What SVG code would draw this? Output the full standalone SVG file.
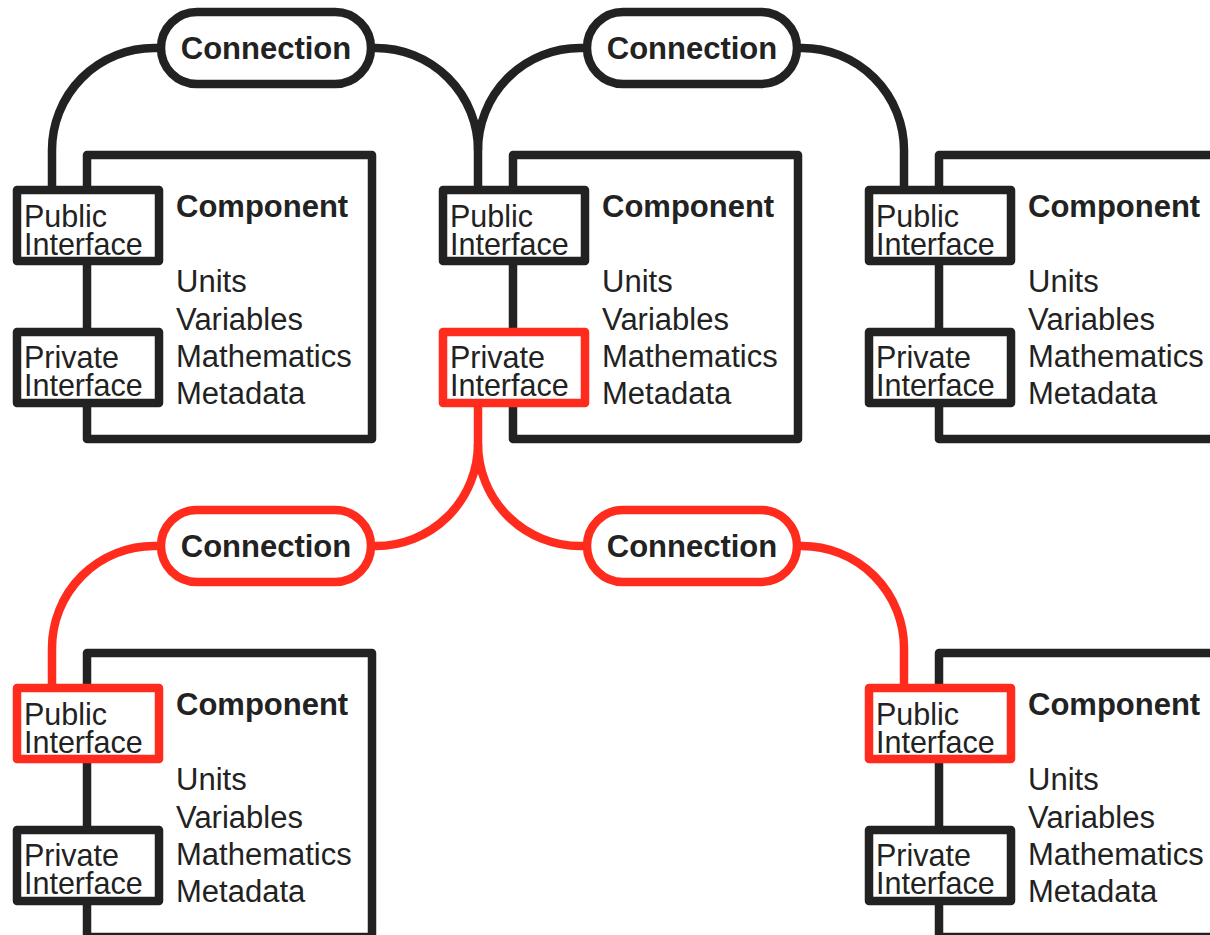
<svg xmlns="http://www.w3.org/2000/svg" width="1210" height="935" viewBox="0 0 1210 935">
  <style>
    .wire{fill:none;stroke:#222;stroke-width:8.5}
    .wire.hot{stroke:#ff2b1c}
    .box{fill:none;stroke:#222;stroke-width:8.5;stroke-linejoin:round}
    .port{fill:#fff;stroke:#222;stroke-width:8.5;stroke-linejoin:round}
    .port.hot{stroke:#ff2b1c}
    .pill{fill:#fff;stroke:#222;stroke-width:8.5}
    .pill.hot{stroke:#ff2b1c}
    text{font-family:"Liberation Sans",Arial,Helvetica,sans-serif;fill:#222}
    .title{font-size:31px;font-weight:bold}
    .item{font-size:31px}
    .plabel{font-size:30.5px}
    .clabel{font-size:31px;font-weight:bold;text-anchor:middle}
  </style>
  <rect width="1210" height="935" fill="#fff"/>

  <!-- connectors -->
  <g id="connectors">
    <path class="wire" d="M52,190 V150 A102,102 0 0 1 154,48 H165"/>
    <path class="wire" d="M370,48 H376 A102,102 0 0 1 478,150 V190"/>
    <path class="wire" d="M588,48 H580 A102,102 0 0 0 478,150"/>
    <path class="wire" d="M796,48 H802 A102,102 0 0 1 904,150 V190"/>
    <path class="wire hot" d="M478,403 V444 A102,102 0 0 1 376,546 H370"/>
    <path class="wire hot" d="M478,444 A102,102 0 0 0 580,546 H588"/>
    <path class="wire hot" d="M165,546 H154 A102,102 0 0 0 52,648 V688"/>
    <path class="wire hot" d="M796,546 H802 A102,102 0 0 1 904,648 V688"/>
  </g>

  <!-- components -->
  <g id="component-1">
    <rect class="box" x="87" y="155" width="285" height="284"/>
    <text class="title" x="176" y="217">Component</text>
    <text class="item" x="176" y="292">Units</text>
    <text class="item" x="176" y="329.5">Variables</text>
    <text class="item" x="176" y="367">Mathematics</text>
    <text class="item" x="176" y="404">Metadata</text>
    <g id="component-1-public">
      <rect class="port" x="17" y="190" width="142" height="71"/>
      <text class="plabel" x="24" y="227">Public</text>
      <text class="plabel" x="24" y="255">Interface</text>
    </g>
    <g id="component-1-private">
      <rect class="port" x="17" y="332" width="142" height="71"/>
      <text class="plabel" x="24" y="368">Private</text>
      <text class="plabel" x="24" y="396">Interface</text>
    </g>
  </g>

  <g id="component-2" transform="translate(426,0)">
    <rect class="box" x="87" y="155" width="285" height="284"/>
    <text class="title" x="176" y="217">Component</text>
    <text class="item" x="176" y="292">Units</text>
    <text class="item" x="176" y="329.5">Variables</text>
    <text class="item" x="176" y="367">Mathematics</text>
    <text class="item" x="176" y="404">Metadata</text>
    <g id="component-2-public">
      <rect class="port" x="17" y="190" width="142" height="71"/>
      <text class="plabel" x="24" y="227">Public</text>
      <text class="plabel" x="24" y="255">Interface</text>
    </g>
    <g id="component-2-private">
      <rect class="port hot" x="17" y="332" width="142" height="71"/>
      <text class="plabel" x="24" y="368">Private</text>
      <text class="plabel" x="24" y="396">Interface</text>
    </g>
  </g>

  <g id="component-3" transform="translate(852,0)">
    <rect class="box" x="87" y="155" width="285" height="284"/>
    <text class="title" x="176" y="217">Component</text>
    <text class="item" x="176" y="292">Units</text>
    <text class="item" x="176" y="329.5">Variables</text>
    <text class="item" x="176" y="367">Mathematics</text>
    <text class="item" x="176" y="404">Metadata</text>
    <g id="component-3-public">
      <rect class="port" x="17" y="190" width="142" height="71"/>
      <text class="plabel" x="24" y="227">Public</text>
      <text class="plabel" x="24" y="255">Interface</text>
    </g>
    <g id="component-3-private">
      <rect class="port" x="17" y="332" width="142" height="71"/>
      <text class="plabel" x="24" y="368">Private</text>
      <text class="plabel" x="24" y="396">Interface</text>
    </g>
  </g>

  <g id="component-4" transform="translate(0,498)">
    <rect class="box" x="87" y="155" width="285" height="284"/>
    <text class="title" x="176" y="217">Component</text>
    <text class="item" x="176" y="292">Units</text>
    <text class="item" x="176" y="329.5">Variables</text>
    <text class="item" x="176" y="367">Mathematics</text>
    <text class="item" x="176" y="404">Metadata</text>
    <g id="component-4-public">
      <rect class="port hot" x="17" y="190" width="142" height="71"/>
      <text class="plabel" x="24" y="227">Public</text>
      <text class="plabel" x="24" y="255">Interface</text>
    </g>
    <g id="component-4-private">
      <rect class="port" x="17" y="332" width="142" height="71"/>
      <text class="plabel" x="24" y="368">Private</text>
      <text class="plabel" x="24" y="396">Interface</text>
    </g>
  </g>

  <g id="component-5" transform="translate(852,498)">
    <rect class="box" x="87" y="155" width="285" height="284"/>
    <text class="title" x="176" y="217">Component</text>
    <text class="item" x="176" y="292">Units</text>
    <text class="item" x="176" y="329.5">Variables</text>
    <text class="item" x="176" y="367">Mathematics</text>
    <text class="item" x="176" y="404">Metadata</text>
    <g id="component-5-public">
      <rect class="port hot" x="17" y="190" width="142" height="71"/>
      <text class="plabel" x="24" y="227">Public</text>
      <text class="plabel" x="24" y="255">Interface</text>
    </g>
    <g id="component-5-private">
      <rect class="port" x="17" y="332" width="142" height="71"/>
      <text class="plabel" x="24" y="368">Private</text>
      <text class="plabel" x="24" y="396">Interface</text>
    </g>
  </g>

  <!-- connections -->
  <g id="connection-1">
    <rect class="pill" x="161" y="12" width="210" height="72" rx="36"/>
    <text class="clabel" x="266" y="59">Connection</text>
  </g>
  <g id="connection-2">
    <rect class="pill" x="587" y="12" width="210" height="72" rx="36"/>
    <text class="clabel" x="692" y="59">Connection</text>
  </g>
  <g id="connection-3">
    <rect class="pill hot" x="161" y="510" width="210" height="72" rx="36"/>
    <text class="clabel" x="266" y="557">Connection</text>
  </g>
  <g id="connection-4">
    <rect class="pill hot" x="587" y="510" width="210" height="72" rx="36"/>
    <text class="clabel" x="692" y="557">Connection</text>
  </g>
</svg>
